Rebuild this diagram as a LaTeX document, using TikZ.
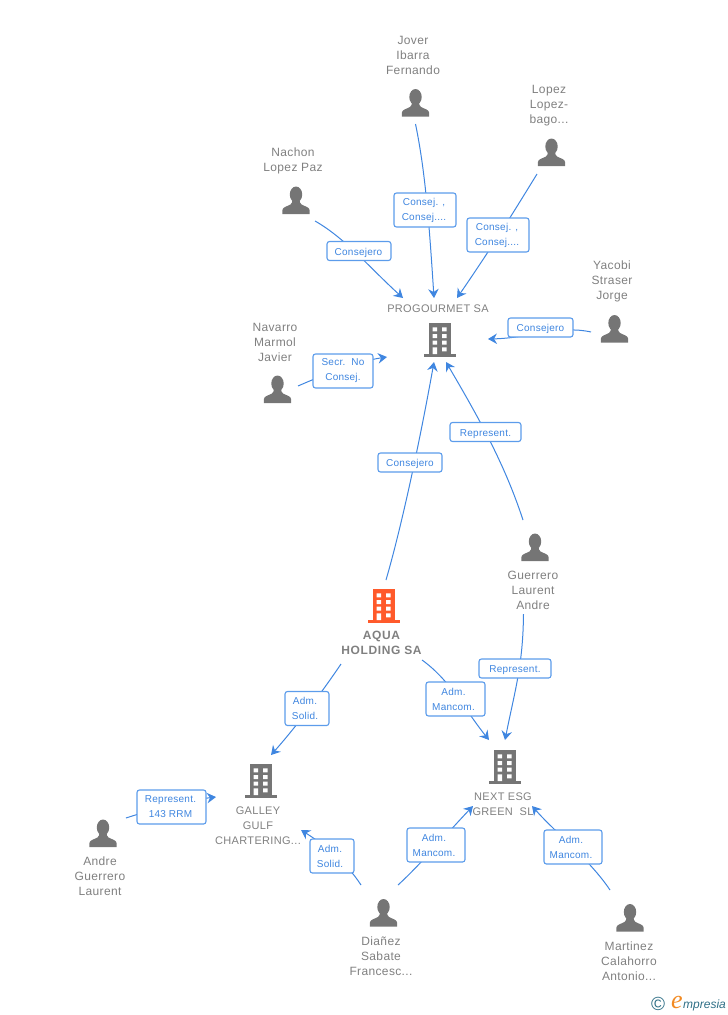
\documentclass[tikz,border=0pt]{standalone}
\usepackage{fontspec}
\setmainfont{Liberation Sans}
\newfontfamily\logofont{Liberation Serif}
\usetikzlibrary{arrows.meta,backgrounds}
\definecolor{txtgrey}{HTML}{808080}
\definecolor{icongrey}{HTML}{757575}
\definecolor{orangeicon}{HTML}{FF5A2B}
\definecolor{linkblue}{HTML}{3F86E0}
\definecolor{boxblue}{HTML}{5C9CEB}
\definecolor{logoteal}{HTML}{2F6F86}
\definecolor{logoorange}{HTML}{F28A22}
\newcommand{\nudged}{\hspace*{4pt}}
\tikzset{
  x=1pt,y=-1pt,
  who/.style={text=txtgrey,align=center,inner sep=0pt,font=\fontsize{12}{15}\selectfont\addfontfeature{LetterSpace=3}},
  firm/.style={who,font=\fontsize{11}{15}\selectfont\addfontfeature{LetterSpace=3}},
  mainfirm/.style={who,font=\fontsize{12}{15}\selectfont\bfseries\addfontfeature{LetterSpace=5}},
  rolebox/.style={draw=boxblue,line width=1.1pt,rounded corners=2.5pt,fill=white,
    text=linkblue,align=center,inner sep=0pt,font=\fontsize{10}{15}\selectfont\addfontfeature{LetterSpace=2.5},
    execute at begin node=\rule{0pt}{11pt}},
  conn/.style={draw=linkblue,line width=1pt,-{Stealth[length=9pt,width=10.5pt,inset=3pt]}},
  iconspot/.style={inner sep=0pt,minimum width=28pt,minimum height=28pt},
  pics/person/.style={code={
    \fill[icongrey] (0,-6) ellipse[x radius=6.2,y radius=8];
    \fill[icongrey] (-13.7,13.7) -- (-13.7,10) .. controls (-13.7,6.5) and (-9,6) .. (-5.5,4)
      .. controls (-4,3) and (-3.5,1) .. (-3.5,-1) -- (3.5,-1) .. controls (3.5,1) and (4,3) .. (5.5,4)
      .. controls (9,6) and (13.7,6.5) .. (13.7,10) -- (13.7,13.7) -- cycle;
  }},
  pics/building/.style={code={
    \fill[#1] (-11.3,-17) rectangle (11.3,14);
    \fill[#1] (-16,14) rectangle (16,17);
    \fill[white] (-7.3,-12.7) rectangle (-2.8,-8.7) (2,-12.7) rectangle (6.7,-8.7)
      (-7.3,-6) rectangle (-2.8,-2) (2,-6) rectangle (6.7,-2)
      (-7.3,0.7) rectangle (-2.8,4.7) (2,0.7) rectangle (6.7,4.7)
      (-7.3,7.3) rectangle (-2.8,14) (2,7.3) rectangle (6.7,11.3);
  }},
}
\begin{document}
\begin{tikzpicture}
\useasboundingbox (0,0) rectangle (728,1015);

% person icons
\node[iconspot] (jover) at (415.5,103) {};
\node[iconspot] (lopez) at (551.5,152.5) {};
\node[iconspot] (nachon) at (296,200.5) {};
\node[iconspot] (yacobi) at (614.5,329) {};
\node[iconspot] (navarro) at (277.5,389.5) {};
\node[iconspot] (guerrero) at (535,547.5) {};
\node[iconspot] (andre) at (103,833.5) {};
\node[iconspot] (dianez) at (383.5,913) {};
\node[iconspot] (martinez) at (630,918) {};
\foreach \n in {jover,lopez,nachon,yacobi,navarro,guerrero,andre,dianez,martinez}
  \pic at (\n) {person};

% company icons
\node[iconspot] (progourmet) at (440,340) {};
\node[iconspot] (aqua) at (384,606) {};
\node[iconspot] (nextesg) at (505,767) {};
\node[iconspot] (galley) at (261,781) {};
\pic at (progourmet) {building=icongrey};
\pic at (aqua) {building=orangeicon};
\pic at (nextesg) {building=icongrey};
\pic at (galley) {building=icongrey};

% texts
\node[who] (tjover) at (413,55.5) {Jover\\Ibarra\\Fernando};
\node[who] (tlopez) at (549,105.5) {Lopez\\Lopez-\\bago...};
\node[who] (tnachon) at (293,161) {Nachon\\Lopez Paz};
\node[firm] (tprog) at (438,308.5) {PROGOURMET SA};
\node[who] (tyacobi) at (612,281.5) {Yacobi\\Straser\\Jorge};
\node[who] (tnavarro) at (275,342.5) {Navarro\\Marmol\\Javier};
\node[who] (tguerrero) at (533,590.5) {Guerrero\\Laurent\\Andre};
\node[mainfirm] (taqua) at (381.5,643) {AQUA\\HOLDING SA};
\node[firm] (tnext) at (503,804) {NEXT ESG\\GREEN\ \ SL};
\node[firm] (tgalley) at (258,825.5) {GALLEY\\GULF\\CHARTERING...};
\node[who] (tandre) at (100,876.5) {Andre\\Guerrero\\Laurent};
\node[who] (tdianez) at (381,956.5) {Diañez\\Sabate\\Francesc...};
\node[who] (tmartinez) at (629,961.5) {Martinez\\Calahorro\\Antonio...};

% role boxes
\node[rolebox,minimum width=62pt,minimum height=34pt] (b1) at (425,210) {Consej. ,\hspace*{2pt}\\Consej....\hspace*{2pt}};
\node[rolebox,minimum width=62pt,minimum height=34pt] (b2) at (498,235) {Consej. ,\hspace*{2pt}\\Consej....\hspace*{2pt}};
\node[rolebox,minimum width=64pt,minimum height=19pt] (b3) at (359,251) {Consejero\hspace*{1pt}};
\node[rolebox,minimum width=65pt,minimum height=19pt] (b4) at (540.5,327.5) {Consejero};
\node[rolebox,minimum width=60pt,minimum height=34pt] (b5) at (343,371) {Secr.\ \ No\\Consej.};
\node[rolebox,minimum width=64pt,minimum height=19pt] (b6) at (410,462.5) {Consejero};
\node[rolebox,minimum width=71pt,minimum height=19pt] (b7) at (485.5,432) {Represent.};
\node[rolebox,minimum width=72pt,minimum height=19pt] (b8) at (515,668.5) {Represent.};
\node[rolebox,minimum width=59pt,minimum height=34pt] (b9) at (455.5,699) {Adm.\nudged\\Mancom.\nudged};
\node[rolebox,minimum width=44pt,minimum height=34pt] (b10) at (307,708.5) {Adm.\nudged\\Solid.\nudged};
\node[rolebox,minimum width=69pt,minimum height=34pt] (b11) at (171.5,807) {Represent.\hspace*{2pt}\\143 RRM\hspace*{2pt}};
\node[rolebox,minimum width=44pt,minimum height=34pt] (b12) at (332,856) {Adm.\nudged\\Solid.\nudged};
\node[rolebox,minimum width=58pt,minimum height=34pt] (b13) at (436,845) {Adm.\nudged\\Mancom.\nudged};
\node[rolebox,minimum width=58pt,minimum height=34pt] (b14) at (573,847) {Adm.\nudged\\Mancom.\nudged};

% connector free ends
\coordinate (s1) at (415.5,124);
\coordinate (e1) at (434,298);
\coordinate (s2) at (537,174);
\coordinate (e2) at (457,298);
\coordinate (s3) at (315,221);
\coordinate (e3) at (403,298);
\coordinate (s4) at (591,332);
\coordinate (e4) at (488,339);
\coordinate (s5) at (298,386);
\coordinate (e5) at (387,357);
\coordinate (s6) at (386,580);
\coordinate (e6) at (434,362);
\coordinate (s7) at (523,520);
\coordinate (e7) at (446,362);
\coordinate (s8) at (523.5,614);
\coordinate (e8) at (505,740);
\coordinate (s9) at (422,660);
\coordinate (e9) at (489,740);
\coordinate (s10) at (341,664);
\coordinate (e10) at (271,755);
\coordinate (s11) at (126,818);
\coordinate (e11) at (216,797);
\coordinate (s12) at (361,885);
\coordinate (e12) at (301,830);
\coordinate (s13) at (398,885);
\coordinate (e13) at (473,806);
\coordinate (s14) at (610,890);
\coordinate (e14) at (532,806);

\begin{scope}[on background layer]
\draw[conn] (s1) .. controls (425,170) and (429,220) .. (e1);
\draw[conn] (s2) .. controls (510,218) and (490,250) .. (e2);
\draw[conn] (s3) .. controls (345,238) and (370,268) .. (e3);
\draw[conn] (s4) .. controls (560,325) and (530,338) .. (e4);
\draw[conn] (s5) .. controls (330,372) and (360,361) .. (e5);
\draw[conn] (s6) .. controls (402,525) and (420,440) .. (e6);
\draw[conn] (s7) .. controls (505,465) and (480,420) .. (e7);
\draw[conn] (s8) .. controls (523,665) and (515,690) .. (e8);
\draw[conn] (s9) .. controls (450,680) and (465,710) .. (e9);
\draw[conn] (s10) .. controls (320,695) and (295,728) .. (e10);
\draw[conn] (s11) .. controls (150,810) and (190,800) .. (e11);
\draw[conn] (s12) .. controls (345,860) and (320,842) .. (e12);
\draw[conn] (s13) .. controls (420,865) and (450,830) .. (e13);
\draw[conn] (s14) .. controls (590,860) and (555,832) .. (e14);
\end{scope}

% logo
\node[inner sep=0pt,text=logoteal,font=\fontsize{19}{19}\selectfont] (logoc) at (658,1004) {©};
\node[inner sep=0pt,text=logoorange,font=\logofont\itshape\fontsize{26}{26}\selectfont] (logoe) at (677,1002) {e};
\node[inner sep=0pt,anchor=west,text=logoteal,font=\itshape\fontsize{12}{12}\selectfont] (logot) at (683,1005) {mpresia};
\end{tikzpicture}
\end{document}
